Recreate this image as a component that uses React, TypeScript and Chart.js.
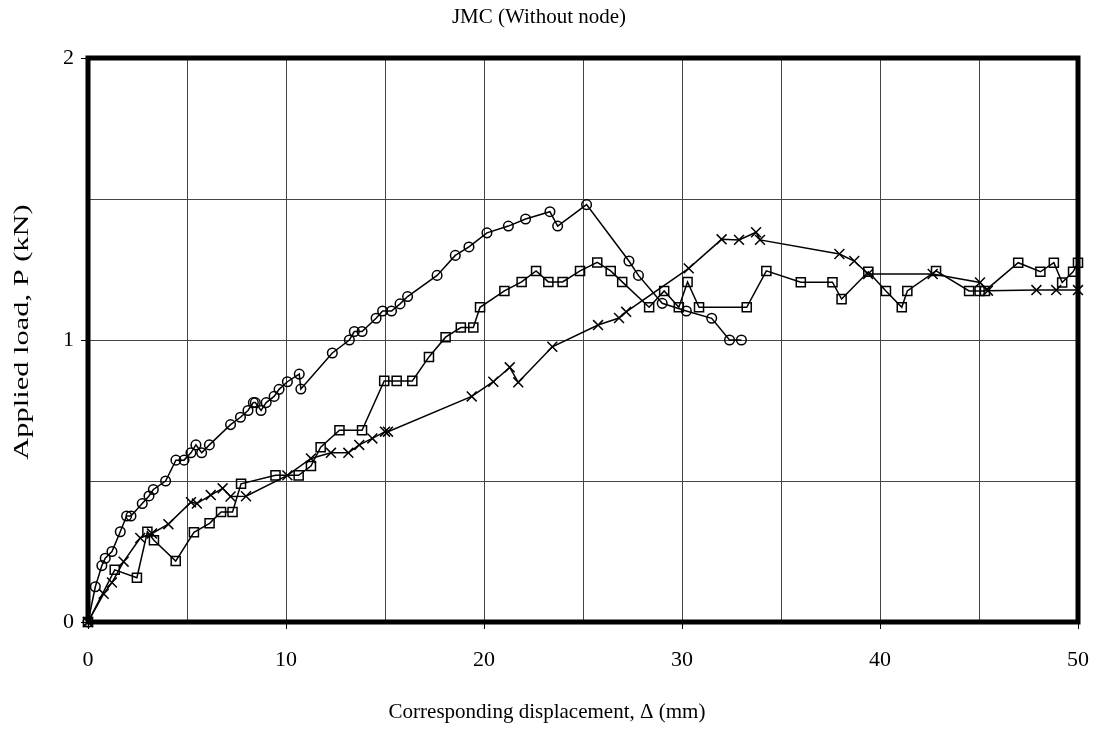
import React, { useEffect, useRef } from "react";
import { Chart, registerables } from "chart.js";

Chart.register(...registerables);

const chartTitle = "JMC (Without node)";
const xAxisTitle = "Corresponding displacement, Δ (mm)";
const yAxisTitle = "Applied load, P (kN)";

// Series with circle markers
const circleX = [0, 0.37, 0.7, 0.87, 1.21, 1.63, 1.95, 2.17, 2.74, 3.08, 3.3, 3.92, 4.44, 4.85, 5.2, 5.45, 5.74, 6.13, 7.2, 7.7, 8.08, 8.35, 8.45, 8.74, 9.0, 9.4, 9.65, 10.07, 10.67, 10.75, 12.34, 13.2, 13.45, 13.84, 14.55, 14.88, 15.33, 15.76, 16.14, 17.63, 18.55, 19.24, 20.15, 21.23, 22.1, 23.33, 23.72, 25.18, 27.32, 27.8, 29.0, 30.22, 31.5, 32.4, 33.0];
const circleY = [0, 0.125, 0.2, 0.226, 0.25, 0.32, 0.376, 0.376, 0.42, 0.447, 0.47, 0.5, 0.574, 0.574, 0.6, 0.628, 0.6, 0.628, 0.7, 0.726, 0.75, 0.778, 0.778, 0.75, 0.778, 0.8, 0.825, 0.852, 0.879, 0.826, 0.954, 1.0, 1.03, 1.03, 1.077, 1.103, 1.103, 1.128, 1.154, 1.229, 1.3, 1.33, 1.38, 1.404, 1.429, 1.455, 1.404, 1.48, 1.28, 1.229, 1.13, 1.103, 1.077, 1.0, 1.0];

// Series with square markers
const squareX = [0, 1.35, 2.47, 3.0, 3.33, 4.43, 5.35, 6.14, 6.72, 7.3, 7.73, 9.47, 10.64, 11.26, 11.75, 12.7, 13.84, 14.96, 15.59, 16.38, 17.22, 18.06, 18.83, 19.46, 19.8, 21.03, 21.9, 22.63, 23.25, 23.97, 24.85, 25.72, 26.4, 26.98, 28.34, 29.1, 29.84, 30.28, 30.86, 33.27, 34.26, 36.0, 37.6, 38.06, 39.41, 40.3, 41.1, 41.38, 42.83, 44.5, 45.03, 45.3, 46.98, 48.1, 48.78, 49.2, 49.75, 50.0];
const squareY = [0, 0.185, 0.157, 0.32, 0.29, 0.216, 0.318, 0.35, 0.39, 0.39, 0.49, 0.52, 0.52, 0.553, 0.62, 0.68, 0.68, 0.855, 0.855, 0.855, 0.94, 1.01, 1.044, 1.044, 1.116, 1.174, 1.206, 1.245, 1.206, 1.206, 1.245, 1.275, 1.245, 1.206, 1.116, 1.174, 1.116, 1.206, 1.116, 1.116, 1.245, 1.205, 1.205, 1.145, 1.242, 1.174, 1.116, 1.174, 1.245, 1.174, 1.174, 1.174, 1.274, 1.242, 1.274, 1.204, 1.242, 1.274];

// Series with cross markers
const crossX = [0, 0.79, 1.21, 1.8, 2.64, 3.23, 4.06, 5.2, 5.5, 6.2, 6.8, 7.2, 7.98, 10.07, 11.26, 12.27, 13.15, 13.7, 14.36, 15.0, 15.15, 19.38, 20.47, 21.3, 21.73, 23.45, 25.76, 26.82, 27.18, 30.34, 32.0, 32.88, 33.74, 33.94, 37.95, 38.7, 39.4, 42.66, 45.05, 45.45, 47.9, 48.9, 50.0];
const crossY = [0, 0.1, 0.14, 0.214, 0.298, 0.314, 0.347, 0.425, 0.42, 0.45, 0.474, 0.445, 0.446, 0.52, 0.58, 0.6, 0.6, 0.628, 0.651, 0.675, 0.675, 0.8, 0.852, 0.903, 0.85, 0.976, 1.053, 1.078, 1.1, 1.254, 1.357, 1.355, 1.382, 1.355, 1.305, 1.28, 1.234, 1.234, 1.204, 1.175, 1.177, 1.177, 1.177];

const xMin = 0;
const xMax = 50;
const xGridStep = 5;
const xLabelStep = 10;
const yMin = 0;
const yMax = 2;
const yGridStep = 0.5;
const yLabelStep = 1;

const toPoints = (xs: number[], ys: number[]) => xs.map((x, i) => ({ x, y: ys[i] }));

const FONT = '"Liberation Serif", "Times New Roman", serif';

const framePlugin = {
  id: "frame",
  beforeDatasetsDraw(chart: any) {
    const { ctx, chartArea } = chart;
    ctx.save();
    ctx.strokeStyle = "#000";
    ctx.lineWidth = 5;
    ctx.strokeRect(chartArea.left, chartArea.top, chartArea.right - chartArea.left, chartArea.bottom - chartArea.top);
    ctx.restore();
  },
  afterDraw(chart: any) {
    const { ctx, chartArea } = chart;
    ctx.save();
    ctx.fillStyle = "#000";
    ctx.font = `21px ${FONT}`;
    ctx.textAlign = "center";
    ctx.textBaseline = "middle";
    ctx.fillText(xAxisTitle, chart.width / 2, 712);
    ctx.restore();

    ctx.save();
    ctx.fillStyle = "#000";
    ctx.font = `21px ${FONT}`;
    ctx.textAlign = "center";
    ctx.textBaseline = "middle";
    ctx.translate(22, (chartArea.top + chartArea.bottom) / 2 - 8);
    ctx.rotate(-Math.PI / 2);
    ctx.scale(1.45, 1);
    ctx.fillText(yAxisTitle, 0, 0);
    ctx.restore();
  },
};

export default function App() {
  const ref = useRef<HTMLCanvasElement | null>(null);

  useEffect(() => {
    if (!ref.current) return;
    Chart.defaults.font.family = FONT;
    Chart.defaults.color = "#000";
    const common = {
      showLine: true,
      borderColor: "#000",
      borderWidth: 1.5,
      pointBorderColor: "#000",
      pointBackgroundColor: "rgba(0,0,0,0)",
      pointBorderWidth: 1.5,
      clip: false as any,
    };
    const chart = new Chart(ref.current, {
      type: "scatter",
      data: {
        datasets: [
          { ...common, label: "circle", data: toPoints(circleX, circleY), pointStyle: "circle", pointRadius: 4.8 },
          { ...common, label: "square", data: toPoints(squareX, squareY), pointStyle: "rect", pointRadius: 6.4 },
          { ...common, label: "cross", data: toPoints(crossX, crossY), pointStyle: "crossRot", pointRadius: 7 },
        ],
      },
      options: {
        animation: false,
        responsive: false,
        events: [],
        layout: { padding: { left: 0, right: 16, top: 0, bottom: 0 } },
        plugins: {
          legend: { display: false },
          tooltip: { enabled: false },
          title: {
            display: true,
            text: chartTitle,
            color: "#000",
            font: { family: FONT, size: 21, weight: "normal" },
            padding: { top: 5, bottom: 27.8 },
          },
        },
        scales: {
          x: {
            type: "linear",
            min: xMin,
            max: xMax,
            afterFit: (s: any) => { s.height = 113; s.paddingLeft = 0; s.paddingRight = 0; },
            border: { display: false },
            grid: {
              color: "#444",
              lineWidth: 1,
              tickLength: 7,
              tickColor: (c: any) => (c.tick && c.tick.value % xLabelStep === 0 ? "#000" : "rgba(0,0,0,0)"),
            },
            ticks: {
              stepSize: xGridStep,
              padding: 18,
              maxRotation: 0,
              autoSkip: false,
              font: { family: FONT, size: 22 },
              callback: (v: any) => (Number(v) % xLabelStep === 0 ? String(v) : ""),
            },
          },
          y: {
            type: "linear",
            min: yMin,
            max: yMax,
            afterFit: (s: any) => { s.width = 88; s.paddingTop = 0; s.paddingBottom = 0; },
            border: { display: false },
            grid: {
              color: "#444",
              lineWidth: 1,
              tickLength: 7,
              tickColor: (c: any) => (c.tick && c.tick.value % yLabelStep === 0 ? "#000" : "rgba(0,0,0,0)"),
            },
            ticks: {
              stepSize: yGridStep,
              padding: 7,
              autoSkip: false,
              font: { family: FONT, size: 22 },
              callback: (v: any) => (Number(v) % yLabelStep === 0 ? String(v) : ""),
            },
          },
        },
      },
      plugins: [framePlugin],
    } as any);
    return () => chart.destroy();
  }, []);

  return (
    <div style={{ position: "fixed", left: 0, top: 0, width: 1094, height: 735, background: "#fff" }}>
      <canvas ref={ref} width={1094} height={735} style={{ width: 1094, height: 735 }} />
    </div>
  );
}
